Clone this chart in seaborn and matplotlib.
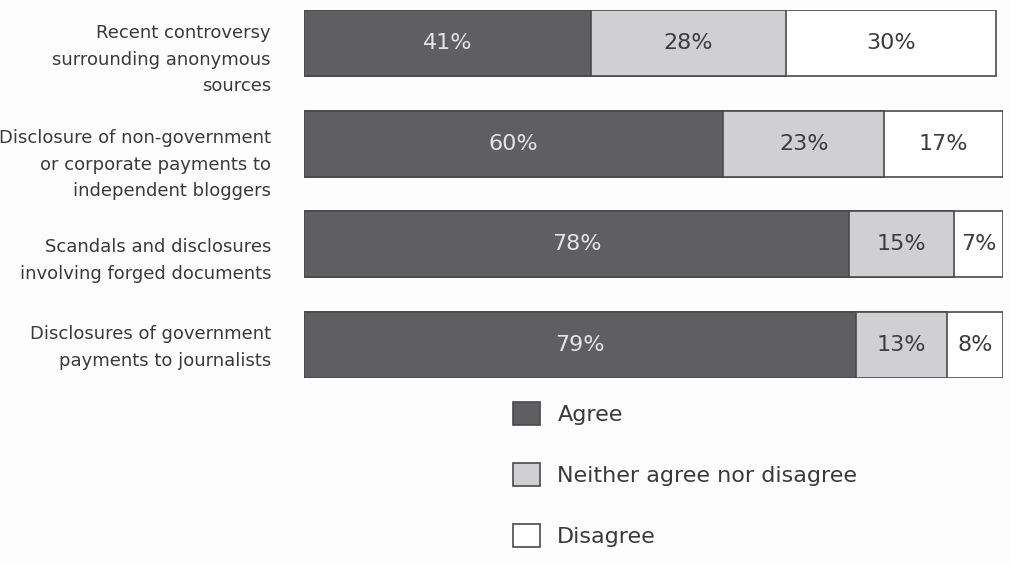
import numpy as np
import pandas as pd
import matplotlib
matplotlib.use("Agg")
import matplotlib.pyplot as plt
from matplotlib.patches import Patch
from matplotlib.transforms import blended_transform_factory, ScaledTranslation
import seaborn as sns

categories = [
    "Recent controversy\nsurrounding anonymous\nsources",
    "Disclosure of non-government\nor corporate payments to\nindependent bloggers",
    "Scandals and disclosures\ninvolving forged documents",
    "Disclosures of government\npayments to journalists",
]
agree = [41, 60, 78, 79]
neither = [28, 23, 15, 13]
disagree = [30, 17, 7, 8]

series_names = ["Agree", "Neither agree nor disagree", "Disagree"]
fill_colors = ["#5f5f61", "#d0d0d2", "#ffffff"]
text_colors = ["#e4e4e4", "#3c3c3c", "#3c3c3c"]
edge_color = "#4a4a4a"
label_drop_px = [16.5, 21, 16.5, 3]

sns.set_theme(style="white")
plt.rcParams["font.family"] = ["DejaVu Sans"]

df = pd.DataFrame({"category": categories, "agree": agree,
                   "neither": neither, "disagree": disagree})
seg = df[["agree", "neither", "disagree"]].to_numpy()
cum = seg.cumsum(axis=1)

fig = plt.figure(figsize=(10.11, 5.65), dpi=100)
fig.patch.set_facecolor("#fdfdfd")
ax = fig.add_axes([304 / 1011, 1 - 378 / 565, 699 / 1011, 368 / 565])
ax.set_facecolor("none")

# Draw cumulative totals from longest to shortest so segments stack left to right
for j in reversed(range(3)):
    sns.barplot(x=cum[:, j], y=df["category"], orient="h", ax=ax,
                color=fill_colors[j], saturation=1, width=0.66,
                edgecolor=edge_color, linewidth=1.2)

for i in range(len(categories)):
    for j in range(3):
        center = cum[i, j] - seg[i, j] / 2
        ax.text(center, i, f"{seg[i, j]}%", ha="center", va="center",
                fontsize=16, color=text_colors[j])

ax.set_xlim(0, 100)
ax.set_ylim(3.33, -0.33)
ax.set_xlabel("")
ax.set_ylabel("")
ax.set_xticks([])
ax.set_yticks([])
sns.despine(ax=ax, left=True, bottom=True)

# Category labels, right-aligned to the left of the bars
base = blended_transform_factory(ax.transAxes, ax.transData)
for i, (name, drop) in enumerate(zip(categories, label_drop_px)):
    tr = base + ScaledTranslation(-33 / 100, -drop / 100, fig.dpi_scale_trans)
    ax.text(0, i, name, transform=tr, ha="right", va="center",
            multialignment="right", fontsize=13, color="#3a3a3a",
            linespacing=1.62, clip_on=False)

legend_handles = [Patch(facecolor=c, edgecolor=edge_color, linewidth=1.2)
                  for c in fill_colors]
fig.legend(legend_handles, series_names, loc="upper left",
           bbox_to_anchor=(504 / 1011, 1 - 393 / 565), frameon=False,
           fontsize=16, handlelength=1.2, handleheight=1.2,
           handletextpad=0.8, labelspacing=1.72, labelcolor="#3a3a3a",
           borderaxespad=0)

fig.savefig("out.png", dpi=100, facecolor=fig.get_facecolor())
